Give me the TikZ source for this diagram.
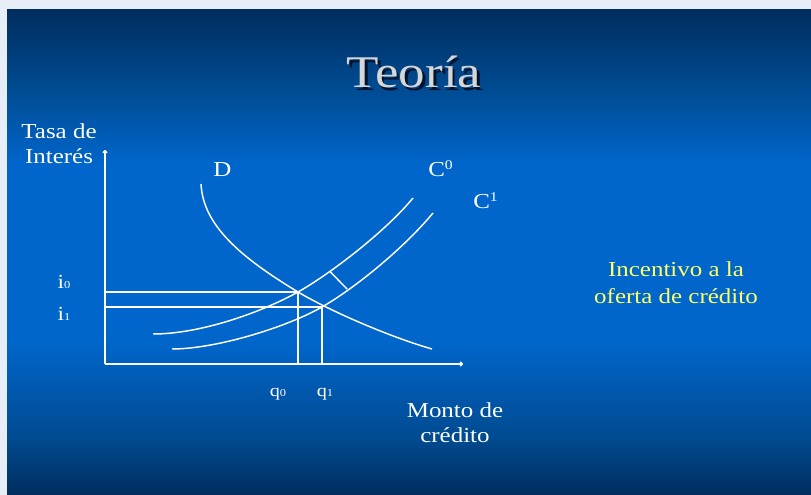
\documentclass[tikz,border=0pt]{standalone}
\usepackage{fontspec}
\setmainfont{Liberation Serif}[FakeStretch=1.17]
\usetikzlibrary{calc,arrows.meta}

\definecolor{navy}{RGB}{0,45,95}
\definecolor{midblue}{RGB}{0,75,145}
\definecolor{brightblue}{RGB}{0,102,204}
\definecolor{edgegrey}{RGB}{232,238,248}
\definecolor{titlegrey}{RGB}{214,214,214}
\definecolor{shadowblue}{RGB}{0,18,45}
\definecolor{notes}{RGB}{255,255,102}

% the path is fitted to the 25bp--75bp band of the shading
\pgfdeclareverticalshading{slidebg}{100bp}{color(0bp)=(navy); color(25bp)=(navy); color(31bp)=(midblue);
  color(41bp)=(brightblue); color(59bp)=(brightblue); color(67bp)=(midblue); color(75bp)=(navy); color(100bp)=(navy)}

\tikzset{
  axis/.style={draw=white, line width=1.1pt, -{To[length=2.5pt,width=4pt]}},
  curve/.style={draw=white, line width=1.1pt},
  guide/.style={draw=white, line width=1.1pt},
  lbl/.style={text=white, inner sep=0pt, font=\fontsize{16}{19}\selectfont},
  small/.style={text=white, inner sep=0pt, font=\fontsize{15}{16}\selectfont}
}
\newcommand{\sub}[1]{{\fontsize{8}{8}\selectfont #1}}

\begin{document}
\begin{tikzpicture}[x=0.75pt, y=-0.75pt]
\useasboundingbox (0,0) rectangle (811,495);
% slide
\fill[edgegrey] (0,0) rectangle (811,495);
\shade[shading=slidebg] (7,10) rectangle (811,495);

% title, with its shadow
\node[anchor=base, text=titlegrey, font=\fontsize{34}{36}\selectfont] (title) at (414,88)
  {\rlap{\kern1.9pt\raisebox{-1.9pt}{\color{shadowblue}Teoría}}Teoría};

% axes
\coordinate (O) at (105,364);
\coordinate (ytop) at (105,150);
\coordinate (xend) at (463,364);
\draw[axis] (O) -- (ytop);
\draw[axis] (O) -- (xend);

% equilibria
\coordinate (E0) at (298,292);
\coordinate (E1) at (322,307);
\coordinate (P0) at (330,271.5);
\coordinate (P1) at (347,289);

% demand
\draw[curve] (201,184) .. controls (203,225) and (240,257) .. (E0)
  .. controls (330,311) and (390,337) .. (432,349);
% supply before and after
\draw[curve] (153,334) .. controls (200,334) and (260,313) .. (E0)
  .. controls (330,274) and (385,232) .. (413,198);
\draw[curve] (172,349) .. controls (215,349) and (285,328) .. (E1)
  .. controls (355,288) and (403,249) .. (433,213);
\draw[guide] (P0) -- (P1);

% guides
\draw[guide] (O |- E0) -- (E0) -- (E0 |- O);
\draw[guide] (O |- E1) -- (E1) -- (E1 |- O);

% labels
\node[lbl, align=center] (ylabel) at (59,144) {Tasa de\\Interés};
\node[lbl, align=center] (xlabel) at (455,423) {Monto de\\crédito};
\node[lbl, anchor=base west] (Dlabel) at (213,177) {D};
\node[lbl, anchor=base west] (C0label) at (428,177) {C\raisebox{5.5pt}{\fontsize{10}{10}\selectfont 0}};
\node[lbl, anchor=base west] (C1label) at (473,209) {C\raisebox{5.5pt}{\fontsize{10}{10}\selectfont 1}};
\node[small, anchor=base] (i0) at (64,289) {i\sub{0}};
\node[small, anchor=base] (i1) at (64,321) {i\sub{1}};
\node[small, anchor=base, font=\fontsize{13}{14}\selectfont] (q0) at (278,397) {q\sub{0}};
\node[small, anchor=base, font=\fontsize{13}{14}\selectfont] (q1) at (325,397) {q\sub{1}};
\node[lbl, align=center, text=notes, font=\fontsize{16}{20}\selectfont] (note) at (676,283) {Incentivo a la\\oferta de crédito};
\end{tikzpicture}
\end{document}
